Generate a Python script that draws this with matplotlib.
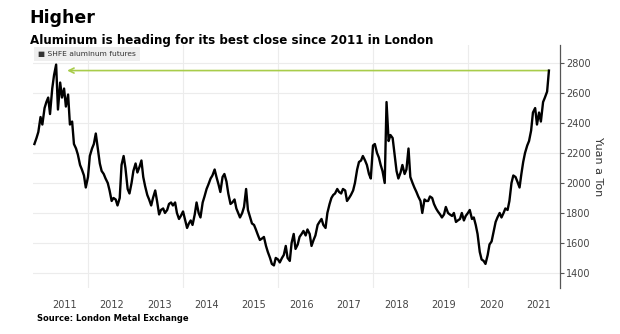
import pandas as pd
import matplotlib.pyplot as plt
import matplotlib.dates as mdates

# semi-monthly closes, 15 Nov 2010 -> 15 Sep 2021
dates = pd.date_range("2010-11-15", "2021-09-15", freq="SMS")

prices = [
    2260, 2300, 2340,  # 2010
    2440, 2390, 2500, 2540, 2570, 2460, 2630, 2720, 2790, 2490, 2670, 2570,
    2630, 2510, 2590, 2390, 2410, 2260, 2230, 2190, 2120, 2090, 2050, 1970,  # 2011
    2040, 2180, 2230, 2260, 2330, 2240, 2130, 2080, 2060, 2030, 2000, 1950,
    1880, 1900, 1890, 1850, 1900, 2120, 2180, 2100, 1960, 1930, 2000, 2080,  # 2012
    2130, 2070, 2110, 2150, 2040, 1980, 1920, 1890, 1850, 1900, 1950, 1880,
    1790, 1820, 1830, 1800, 1820, 1860, 1870, 1850, 1870, 1800, 1760, 1780,  # 2013
    1810, 1760, 1700, 1730, 1750, 1720, 1790, 1870, 1800, 1770, 1870, 1910,
    1960, 1990, 2030, 2050, 2090, 2040, 1990, 1940, 2040, 2060, 2010, 1930,  # 2014
    1860, 1870, 1890, 1830, 1800, 1770, 1800, 1840, 1960, 1820, 1770, 1730,
    1720, 1690, 1650, 1620, 1630, 1640, 1580, 1540, 1500, 1460, 1450, 1500,  # 2015
    1490, 1470, 1500, 1520, 1580, 1500, 1480, 1600, 1660, 1560, 1590, 1640,
    1660, 1680, 1650, 1690, 1660, 1580, 1620, 1650, 1720, 1740, 1760, 1720,  # 2016
    1700, 1800, 1860, 1900, 1920, 1930, 1960, 1940, 1930, 1960, 1950, 1880,
    1900, 1920, 1950, 2000, 2090, 2140, 2150, 2180, 2150, 2120, 2060, 2030,  # 2017
    2250, 2260, 2200, 2170, 2120, 2080, 2000, 2540, 2280, 2320, 2300, 2200,
    2080, 2030, 2070, 2120, 2060, 2090, 2230, 2040, 2000, 1970, 1940, 1910,  # 2018
    1880, 1800, 1890, 1880, 1880, 1910, 1900, 1860, 1830, 1810, 1790, 1770,
    1790, 1840, 1800, 1790, 1780, 1800, 1740, 1750, 1760, 1800, 1750, 1780,  # 2019
    1800, 1820, 1760, 1770, 1720, 1660, 1540, 1490, 1480, 1460, 1520, 1590,
    1610, 1670, 1740, 1770, 1800, 1770, 1800, 1830, 1820, 1880, 2000, 2050,  # 2020
    2040, 2010, 1970, 2060, 2140, 2200, 2250, 2280, 2350, 2470, 2500, 2390,
    2470, 2410, 2540, 2570, 2610, 2750,  # 2021
]

years = list(range(2011, 2022))
year_labels = [str(y) for y in years]
yticks = [1400, 1600, 1800, 2000, 2200, 2400, 2600, 2800]

fig = plt.figure(figsize=(6.2, 3.34), dpi=100)
ax = fig.add_axes([0.053, 0.138, 0.850, 0.727])

ax.plot(dates, prices, color="black", lw=1.7, zorder=3)

# arrow back from the latest close to the 2011 high
ax.annotate("", xy=(pd.Timestamp("2011-07-25"), prices[-1]),
            xytext=(dates[-1], prices[-1]),
            arrowprops=dict(arrowstyle="->", color="#a8cc4a", lw=1.2,
                            mutation_scale=9, shrinkA=0, shrinkB=0),
            zorder=2)

ax.set_xlim(pd.Timestamp("2010-11-03"), pd.Timestamp("2021-12-08"))
ax.set_ylim(1300, 2920)

# year labels sit mid-year, gridlines every other January
ax.set_xticks([pd.Timestamp(f"{y}-07-01") for y in years])
ax.set_xticklabels(year_labels)
ax.set_xticks([pd.Timestamp(f"{y}-01-01") for y in range(2012, 2022, 2)], minor=True)
ax.tick_params(axis="x", which="both", length=0, labelsize=7, colors="#444444", pad=9)
ax.grid(axis="x", which="minor", color="#ececec", lw=0.8)

ax.yaxis.tick_right()
ax.set_yticks(yticks)
ax.tick_params(axis="y", length=3, width=0.8, color="#555555", labelsize=7,
               labelcolor="#444444", pad=1.5)
ax.grid(axis="y", which="major", color="#ececec", lw=0.8)
ax.yaxis.set_label_position("right")
ax.set_ylabel("Yuan a Ton", rotation=270, fontsize=8, color="#333333", labelpad=9)

for s in ["left", "top", "bottom"]:
    ax.spines[s].set_visible(False)
ax.spines["right"].set_color("#555555")
ax.spines["right"].set_linewidth(0.9)

fig.text(0.048, 0.972, "Higher", fontsize=12.5, fontweight="bold", va="top")
fig.text(0.048, 0.898, "Aluminum is heading for its best close since 2011 in London",
         fontsize=8.6, fontweight="bold", va="top")
fig.text(0.062, 0.838, "\u25a0 SHFE aluminum futures", fontsize=5.4, color="#333333",
         va="center",
         bbox=dict(boxstyle="square,pad=0.55", facecolor="#eeeeee", edgecolor="none"))
fig.text(0.060, 0.045, "Source: London Metal Exchange", fontsize=6,
         fontweight="bold", va="center")

fig.savefig("out.png", dpi=100)
